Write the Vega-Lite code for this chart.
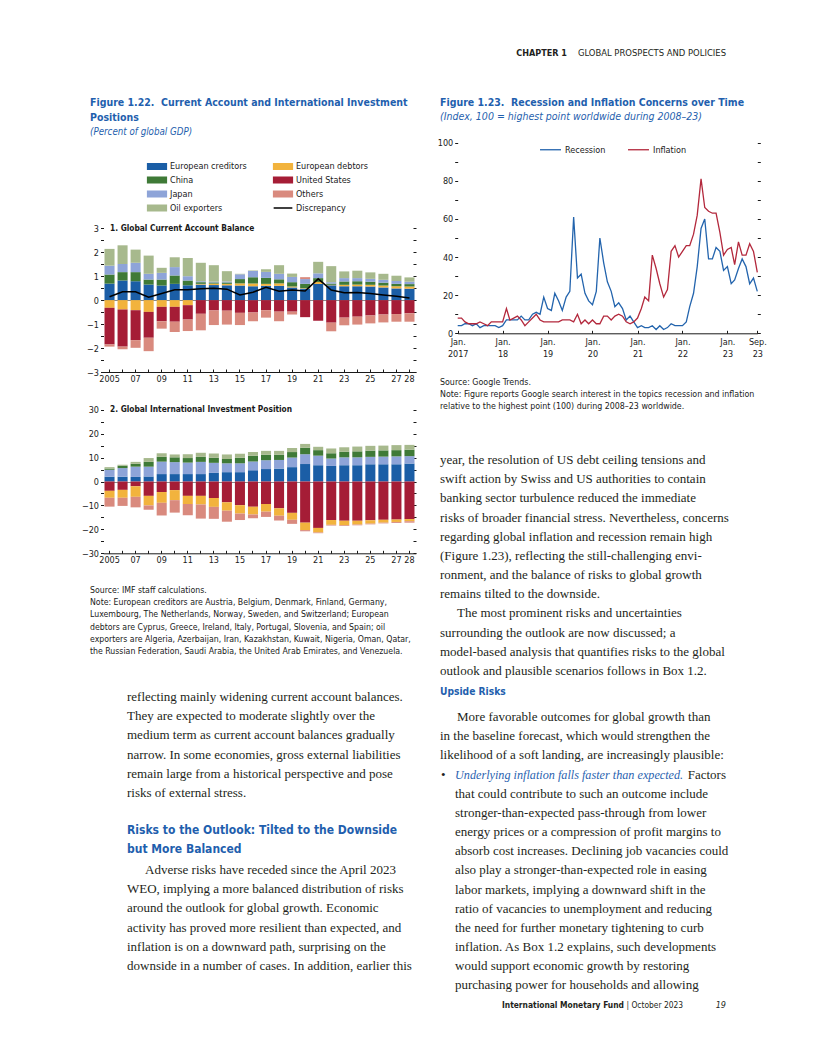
{
"$schema": "https://vega.github.io/schema/vega-lite/v6.json",
"width": 816, "height": 1056,
"autosize": {"type": "fit", "contains": "padding"},
"padding": 0,
"background": "white",
"config": {
  "view": {"stroke": null},
  "axis": {"labelFont": "Liberation Sans Narrow, Arial Narrow, DejaVu Sans Condensed, sans-serif", "labelFontSize": 9, "labelColor": "#1a1a1a", "tickColor": "#1a1a1a", "domainColor": "#1a1a1a", "grid": false, "labelPadding": 2, "tickSize": 3},
  "legend": {"labelFont": "Liberation Sans Narrow, Arial Narrow, DejaVu Sans Condensed, sans-serif", "labelFontSize": 9, "labelColor": "#1a1a1a"}
},
"datasets": {
"ca": [
{"year":2005,"series":"European creditors","rank":1,"value":0.69},{"year":2005,"series":"European debtors","rank":2,"value":-0.32},{"year":2005,"series":"China","rank":3,"value":0.38},{"year":2005,"series":"Japan","rank":4,"value":0.37},{"year":2005,"series":"Oil exporters","rank":5,"value":0.70},{"year":2005,"series":"United States","rank":6,"value":-1.53},{"year":2005,"series":"Others","rank":7,"value":-0.09},
{"year":2006,"series":"European creditors","rank":1,"value":0.82},{"year":2006,"series":"European debtors","rank":2,"value":-0.39},{"year":2006,"series":"China","rank":3,"value":0.35},{"year":2006,"series":"Japan","rank":4,"value":0.34},{"year":2006,"series":"Oil exporters","rank":5,"value":0.78},{"year":2006,"series":"United States","rank":6,"value":-1.55},{"year":2006,"series":"Others","rank":7,"value":-0.11},
{"year":2007,"series":"European creditors","rank":1,"value":0.79},{"year":2007,"series":"European debtors","rank":2,"value":-0.42},{"year":2007,"series":"China","rank":3,"value":0.38},{"year":2007,"series":"Japan","rank":4,"value":0.39},{"year":2007,"series":"Oil exporters","rank":5,"value":0.55},{"year":2007,"series":"United States","rank":6,"value":-1.25},{"year":2007,"series":"Others","rank":7,"value":-0.32},
{"year":2008,"series":"European creditors","rank":1,"value":0.65},{"year":2008,"series":"European debtors","rank":2,"value":-0.49},{"year":2008,"series":"China","rank":3,"value":0.21},{"year":2008,"series":"Japan","rank":4,"value":0.24},{"year":2008,"series":"Oil exporters","rank":5,"value":0.76},{"year":2008,"series":"United States","rank":6,"value":-1.08},{"year":2008,"series":"Others","rank":7,"value":-0.56},
{"year":2009,"series":"European creditors","rank":1,"value":0.61},{"year":2009,"series":"European debtors","rank":2,"value":-0.28},{"year":2009,"series":"China","rank":3,"value":0.25},{"year":2009,"series":"Japan","rank":4,"value":0.28},{"year":2009,"series":"Oil exporters","rank":5,"value":0.21},{"year":2009,"series":"United States","rank":6,"value":-0.60},{"year":2009,"series":"Others","rank":7,"value":-0.31},
{"year":2010,"series":"European creditors","rank":1,"value":0.68},{"year":2010,"series":"European debtors","rank":2,"value":-0.28},{"year":2010,"series":"China","rank":3,"value":0.35},{"year":2010,"series":"Japan","rank":4,"value":0.35},{"year":2010,"series":"Oil exporters","rank":5,"value":0.41},{"year":2010,"series":"United States","rank":6,"value":-0.62},{"year":2010,"series":"Others","rank":7,"value":-0.43},
{"year":2011,"series":"European creditors","rank":1,"value":0.62},{"year":2011,"series":"European debtors","rank":2,"value":-0.21},{"year":2011,"series":"China","rank":3,"value":0.20},{"year":2011,"series":"Japan","rank":4,"value":0.18},{"year":2011,"series":"Oil exporters","rank":5,"value":0.76},{"year":2011,"series":"United States","rank":6,"value":-0.60},{"year":2011,"series":"Others","rank":7,"value":-0.48},
{"year":2012,"series":"European creditors","rank":1,"value":0.65},{"year":2012,"series":"European debtors","rank":2,"value":0.03},{"year":2012,"series":"China","rank":3,"value":0.07},{"year":2012,"series":"Japan","rank":4,"value":0.04},{"year":2012,"series":"Oil exporters","rank":5,"value":0.77},{"year":2012,"series":"United States","rank":6,"value":-0.57},{"year":2012,"series":"Others","rank":7,"value":-0.69},
{"year":2013,"series":"European creditors","rank":1,"value":0.63},{"year":2013,"series":"European debtors","rank":2,"value":0.06},{"year":2013,"series":"China","rank":3,"value":0.05},{"year":2013,"series":"Japan","rank":4,"value":0.03},{"year":2013,"series":"Oil exporters","rank":5,"value":0.69},{"year":2013,"series":"United States","rank":6,"value":-0.43},{"year":2013,"series":"Others","rank":7,"value":-0.61},
{"year":2014,"series":"European creditors","rank":1,"value":0.62},{"year":2014,"series":"European debtors","rank":2,"value":0.06},{"year":2014,"series":"China","rank":3,"value":0.06},{"year":2014,"series":"Japan","rank":4,"value":0.04},{"year":2014,"series":"Oil exporters","rank":5,"value":0.43},{"year":2014,"series":"United States","rank":6,"value":-0.44},{"year":2014,"series":"Others","rank":7,"value":-0.58},
{"year":2015,"series":"European creditors","rank":1,"value":0.61},{"year":2015,"series":"European debtors","rank":2,"value":0.09},{"year":2015,"series":"China","rank":3,"value":0.18},{"year":2015,"series":"Japan","rank":4,"value":0.20},{"year":2015,"series":"Oil exporters","rank":5,"value":0.02},{"year":2015,"series":"United States","rank":6,"value":-0.53},{"year":2015,"series":"Others","rank":7,"value":-0.51},
{"year":2016,"series":"European creditors","rank":1,"value":0.58},{"year":2016,"series":"European debtors","rank":2,"value":0.12},{"year":2016,"series":"China","rank":3,"value":0.26},{"year":2016,"series":"Japan","rank":4,"value":0.26},{"year":2016,"series":"Oil exporters","rank":5,"value":0.02},{"year":2016,"series":"United States","rank":6,"value":-0.52},{"year":2016,"series":"Others","rank":7,"value":-0.36},
{"year":2017,"series":"European creditors","rank":1,"value":0.60},{"year":2017,"series":"European debtors","rank":2,"value":0.08},{"year":2017,"series":"China","rank":3,"value":0.25},{"year":2017,"series":"Japan","rank":4,"value":0.25},{"year":2017,"series":"Oil exporters","rank":5,"value":0.11},{"year":2017,"series":"United States","rank":6,"value":-0.42},{"year":2017,"series":"Others","rank":7,"value":-0.31},
{"year":2018,"series":"European creditors","rank":1,"value":0.60},{"year":2018,"series":"European debtors","rank":2,"value":0.10},{"year":2018,"series":"China","rank":3,"value":0.17},{"year":2018,"series":"Japan","rank":4,"value":0.23},{"year":2018,"series":"Oil exporters","rank":5,"value":0.36},{"year":2018,"series":"United States","rank":6,"value":-0.48},{"year":2018,"series":"Others","rank":7,"value":-0.40},
{"year":2019,"series":"European creditors","rank":1,"value":0.53},{"year":2019,"series":"European debtors","rank":2,"value":0.04},{"year":2019,"series":"China","rank":3,"value":0.18},{"year":2019,"series":"Japan","rank":4,"value":0.22},{"year":2019,"series":"Oil exporters","rank":5,"value":0.14},{"year":2019,"series":"United States","rank":6,"value":-0.48},{"year":2019,"series":"Others","rank":7,"value":-0.12},
{"year":2020,"series":"European creditors","rank":1,"value":0.48},{"year":2020,"series":"European debtors","rank":2,"value":0.02},{"year":2020,"series":"China","rank":3,"value":0.18},{"year":2020,"series":"Japan","rank":4,"value":0.20},{"year":2020,"series":"Oil exporters","rank":5,"value":0.0},{"year":2020,"series":"United States","rank":6,"value":-0.71},{"year":2020,"series":"Others","rank":7,"value":0.08},
{"year":2021,"series":"European creditors","rank":1,"value":0.68},{"year":2021,"series":"European debtors","rank":2,"value":0.08},{"year":2021,"series":"China","rank":3,"value":0.16},{"year":2021,"series":"Japan","rank":4,"value":0.20},{"year":2021,"series":"Oil exporters","rank":5,"value":0.48},{"year":2021,"series":"United States","rank":6,"value":-0.86},{"year":2021,"series":"Others","rank":7,"value":0.0},
{"year":2022,"series":"European creditors","rank":1,"value":0.62},{"year":2022,"series":"European debtors","rank":2,"value":0.02},{"year":2022,"series":"China","rank":3,"value":0.05},{"year":2022,"series":"Japan","rank":4,"value":0.06},{"year":2022,"series":"Oil exporters","rank":5,"value":0.67},{"year":2022,"series":"United States","rank":6,"value":-0.94},{"year":2022,"series":"Others","rank":7,"value":-0.36},
{"year":2023,"series":"European creditors","rank":1,"value":0.58},{"year":2023,"series":"European debtors","rank":2,"value":0.06},{"year":2023,"series":"China","rank":3,"value":0.14},{"year":2023,"series":"Japan","rank":4,"value":0.14},{"year":2023,"series":"Oil exporters","rank":5,"value":0.28},{"year":2023,"series":"United States","rank":6,"value":-0.73},{"year":2023,"series":"Others","rank":7,"value":-0.32},
{"year":2024,"series":"European creditors","rank":1,"value":0.58},{"year":2024,"series":"European debtors","rank":2,"value":0.07},{"year":2024,"series":"China","rank":3,"value":0.14},{"year":2024,"series":"Japan","rank":4,"value":0.13},{"year":2024,"series":"Oil exporters","rank":5,"value":0.31},{"year":2024,"series":"United States","rank":6,"value":-0.69},{"year":2024,"series":"Others","rank":7,"value":-0.33},
{"year":2025,"series":"European creditors","rank":1,"value":0.57},{"year":2025,"series":"European debtors","rank":2,"value":0.07},{"year":2025,"series":"China","rank":3,"value":0.13},{"year":2025,"series":"Japan","rank":4,"value":0.12},{"year":2025,"series":"Oil exporters","rank":5,"value":0.27},{"year":2025,"series":"United States","rank":6,"value":-0.64},{"year":2025,"series":"Others","rank":7,"value":-0.33},
{"year":2026,"series":"European creditors","rank":1,"value":0.53},{"year":2026,"series":"European debtors","rank":2,"value":0.08},{"year":2026,"series":"China","rank":3,"value":0.12},{"year":2026,"series":"Japan","rank":4,"value":0.12},{"year":2026,"series":"Oil exporters","rank":5,"value":0.25},{"year":2026,"series":"United States","rank":6,"value":-0.60},{"year":2026,"series":"Others","rank":7,"value":-0.33},
{"year":2027,"series":"European creditors","rank":1,"value":0.49},{"year":2027,"series":"European debtors","rank":2,"value":0.09},{"year":2027,"series":"China","rank":3,"value":0.10},{"year":2027,"series":"Japan","rank":4,"value":0.12},{"year":2027,"series":"Oil exporters","rank":5,"value":0.22},{"year":2027,"series":"United States","rank":6,"value":-0.58},{"year":2027,"series":"Others","rank":7,"value":-0.32},
{"year":2028,"series":"European creditors","rank":1,"value":0.48},{"year":2028,"series":"European debtors","rank":2,"value":0.09},{"year":2028,"series":"China","rank":3,"value":0.10},{"year":2028,"series":"Japan","rank":4,"value":0.10},{"year":2028,"series":"Oil exporters","rank":5,"value":0.18},{"year":2028,"series":"United States","rank":6,"value":-0.55},{"year":2028,"series":"Others","rank":7,"value":-0.35}
],
"cadisc": [
{"year":2005,"value":0.14},{"year":2006,"value":0.35},{"year":2007,"value":0.35},{"year":2008,"value":0.12},{"year":2009,"value":0.28},{"year":2010,"value":0.43},{"year":2011,"value":0.43},{"year":2012,"value":0.48},{"year":2013,"value":0.50},{"year":2014,"value":0.46},{"year":2015,"value":0.22},{"year":2016,"value":0.33},{"year":2017,"value":0.54},{"year":2018,"value":0.37},{"year":2019,"value":0.42},{"year":2020,"value":0.38},{"year":2021,"value":0.89},{"year":2022,"value":0.42},{"year":2023,"value":0.31},{"year":2024,"value":0.32},{"year":2025,"value":0.28},{"year":2026,"value":0.22},{"year":2027,"value":0.16},{"year":2028,"value":0.09}
],
"iip": [
{"year":2005,"series":"European creditors","rank":1,"value":2.0},{"year":2005,"series":"Japan","rank":2,"value":2.9},{"year":2005,"series":"China","rank":3,"value":0.5},{"year":2005,"series":"Oil exporters","rank":4,"value":0.6},{"year":2005,"series":"United States","rank":5,"value":-3.9},{"year":2005,"series":"European debtors","rank":6,"value":-2.9},{"year":2005,"series":"Others","rank":7,"value":-3.7},
{"year":2006,"series":"European creditors","rank":1,"value":2.0},{"year":2006,"series":"Japan","rank":2,"value":3.6},{"year":2006,"series":"China","rank":3,"value":1.0},{"year":2006,"series":"Oil exporters","rank":4,"value":0.4},{"year":2006,"series":"United States","rank":5,"value":-3.5},{"year":2006,"series":"European debtors","rank":6,"value":-3.3},{"year":2006,"series":"Others","rank":7,"value":-3.4},
{"year":2007,"series":"European creditors","rank":1,"value":1.9},{"year":2007,"series":"Japan","rank":2,"value":4.3},{"year":2007,"series":"China","rank":3,"value":1.2},{"year":2007,"series":"Oil exporters","rank":4,"value":0.8},{"year":2007,"series":"United States","rank":5,"value":-2.0},{"year":2007,"series":"European debtors","rank":6,"value":-4.4},{"year":2007,"series":"Others","rank":7,"value":-4.4},
{"year":2008,"series":"European creditors","rank":1,"value":2.1},{"year":2008,"series":"Japan","rank":2,"value":4.1},{"year":2008,"series":"China","rank":3,"value":2.0},{"year":2008,"series":"Oil exporters","rank":4,"value":1.6},{"year":2008,"series":"United States","rank":5,"value":-6.0},{"year":2008,"series":"European debtors","rank":6,"value":-4.0},{"year":2008,"series":"Others","rank":7,"value":-1.8},
{"year":2009,"series":"European creditors","rank":1,"value":3.1},{"year":2009,"series":"Japan","rank":2,"value":5.2},{"year":2009,"series":"China","rank":3,"value":2.0},{"year":2009,"series":"Oil exporters","rank":4,"value":1.5},{"year":2009,"series":"United States","rank":5,"value":-4.4},{"year":2009,"series":"European debtors","rank":6,"value":-4.5},{"year":2009,"series":"Others","rank":7,"value":-5.3},
{"year":2010,"series":"European creditors","rank":1,"value":3.1},{"year":2010,"series":"Japan","rank":2,"value":5.0},{"year":2010,"series":"China","rank":3,"value":2.0},{"year":2010,"series":"Oil exporters","rank":4,"value":1.2},{"year":2010,"series":"United States","rank":5,"value":-3.6},{"year":2010,"series":"European debtors","rank":6,"value":-4.2},{"year":2010,"series":"Others","rank":7,"value":-5.2},
{"year":2011,"series":"European creditors","rank":1,"value":3.1},{"year":2011,"series":"Japan","rank":2,"value":4.8},{"year":2011,"series":"China","rank":3,"value":1.9},{"year":2011,"series":"Oil exporters","rank":4,"value":1.6},{"year":2011,"series":"United States","rank":5,"value":-6.0},{"year":2011,"series":"European debtors","rank":6,"value":-3.4},{"year":2011,"series":"Others","rank":7,"value":-4.7},
{"year":2012,"series":"European creditors","rank":1,"value":3.1},{"year":2012,"series":"Japan","rank":2,"value":5.1},{"year":2012,"series":"China","rank":3,"value":2.1},{"year":2012,"series":"Oil exporters","rank":4,"value":1.7},{"year":2012,"series":"United States","rank":5,"value":-6.0},{"year":2012,"series":"European debtors","rank":6,"value":-3.6},{"year":2012,"series":"Others","rank":7,"value":-5.9},
{"year":2013,"series":"European creditors","rank":1,"value":3.6},{"year":2013,"series":"Japan","rank":2,"value":4.2},{"year":2013,"series":"China","rank":3,"value":2.1},{"year":2013,"series":"Oil exporters","rank":4,"value":1.8},{"year":2013,"series":"United States","rank":5,"value":-6.9},{"year":2013,"series":"European debtors","rank":6,"value":-3.7},{"year":2013,"series":"Others","rank":7,"value":-5.0},
{"year":2014,"series":"European creditors","rank":1,"value":3.9},{"year":2014,"series":"Japan","rank":2,"value":3.7},{"year":2014,"series":"China","rank":3,"value":1.8},{"year":2014,"series":"Oil exporters","rank":4,"value":1.9},{"year":2014,"series":"United States","rank":5,"value":-8.7},{"year":2014,"series":"European debtors","rank":6,"value":-3.5},{"year":2014,"series":"Others","rank":7,"value":-4.6},
{"year":2015,"series":"European creditors","rank":1,"value":3.9},{"year":2015,"series":"Japan","rank":2,"value":3.7},{"year":2015,"series":"China","rank":3,"value":2.3},{"year":2015,"series":"Oil exporters","rank":4,"value":1.7},{"year":2015,"series":"United States","rank":5,"value":-9.9},{"year":2015,"series":"European debtors","rank":6,"value":-3.5},{"year":2015,"series":"Others","rank":7,"value":-2.7},
{"year":2016,"series":"European creditors","rank":1,"value":4.7},{"year":2016,"series":"Japan","rank":2,"value":3.7},{"year":2016,"series":"China","rank":3,"value":2.4},{"year":2016,"series":"Oil exporters","rank":4,"value":1.5},{"year":2016,"series":"United States","rank":5,"value":-10.5},{"year":2016,"series":"European debtors","rank":6,"value":-3.3},{"year":2016,"series":"Others","rank":7,"value":-1.6},
{"year":2017,"series":"European creditors","rank":1,"value":5.2},{"year":2017,"series":"Japan","rank":2,"value":3.7},{"year":2017,"series":"China","rank":3,"value":2.3},{"year":2017,"series":"Oil exporters","rank":4,"value":1.6},{"year":2017,"series":"United States","rank":5,"value":-9.4},{"year":2017,"series":"European debtors","rank":6,"value":-3.2},{"year":2017,"series":"Others","rank":7,"value":-2.2},
{"year":2018,"series":"European creditors","rank":1,"value":5.4},{"year":2018,"series":"Japan","rank":2,"value":3.6},{"year":2018,"series":"China","rank":3,"value":2.2},{"year":2018,"series":"Oil exporters","rank":4,"value":1.6},{"year":2018,"series":"United States","rank":5,"value":-11.2},{"year":2018,"series":"European debtors","rank":6,"value":-3.1},{"year":2018,"series":"Others","rank":7,"value":-2.0},
{"year":2019,"series":"European creditors","rank":1,"value":6.0},{"year":2019,"series":"Japan","rank":2,"value":4.0},{"year":2019,"series":"China","rank":3,"value":2.3},{"year":2019,"series":"Oil exporters","rank":4,"value":1.7},{"year":2019,"series":"United States","rank":5,"value":-13.1},{"year":2019,"series":"European debtors","rank":6,"value":-2.9},{"year":2019,"series":"Others","rank":7,"value":-1.7},
{"year":2020,"series":"European creditors","rank":1,"value":7.3},{"year":2020,"series":"Japan","rank":2,"value":4.1},{"year":2020,"series":"China","rank":3,"value":2.7},{"year":2020,"series":"Oil exporters","rank":4,"value":1.6},{"year":2020,"series":"United States","rank":5,"value":-17.2},{"year":2020,"series":"European debtors","rank":6,"value":-3.1},{"year":2020,"series":"Others","rank":7,"value":-0.5},
{"year":2021,"series":"European creditors","rank":1,"value":6.8},{"year":2021,"series":"Japan","rank":2,"value":4.0},{"year":2021,"series":"China","rank":3,"value":2.3},{"year":2021,"series":"Oil exporters","rank":4,"value":1.4},{"year":2021,"series":"United States","rank":5,"value":-19.4},{"year":2021,"series":"European debtors","rank":6,"value":-1.9},{"year":2021,"series":"Others","rank":7,"value":-0.3},
{"year":2022,"series":"European creditors","rank":1,"value":6.5},{"year":2022,"series":"Japan","rank":2,"value":3.1},{"year":2022,"series":"China","rank":3,"value":2.2},{"year":2022,"series":"Oil exporters","rank":4,"value":2.0},{"year":2022,"series":"United States","rank":5,"value":-16.1},{"year":2022,"series":"European debtors","rank":6,"value":-2.0},{"year":2022,"series":"Others","rank":7,"value":-0.3},
{"year":2023,"series":"European creditors","rank":1,"value":6.8},{"year":2023,"series":"Japan","rank":2,"value":3.3},{"year":2023,"series":"China","rank":3,"value":2.3},{"year":2023,"series":"Oil exporters","rank":4,"value":1.9},{"year":2023,"series":"United States","rank":5,"value":-16.4},{"year":2023,"series":"European debtors","rank":6,"value":-1.9},{"year":2023,"series":"Others","rank":7,"value":-0.3},
{"year":2024,"series":"European creditors","rank":1,"value":6.8},{"year":2024,"series":"Japan","rank":2,"value":3.3},{"year":2024,"series":"China","rank":3,"value":2.5},{"year":2024,"series":"Oil exporters","rank":4,"value":2.0},{"year":2024,"series":"United States","rank":5,"value":-16.4},{"year":2024,"series":"European debtors","rank":6,"value":-1.6},{"year":2024,"series":"Others","rank":7,"value":-0.3},
{"year":2025,"series":"European creditors","rank":1,"value":7.2},{"year":2025,"series":"Japan","rank":2,"value":3.1},{"year":2025,"series":"China","rank":3,"value":2.6},{"year":2025,"series":"Oil exporters","rank":4,"value":2.0},{"year":2025,"series":"United States","rank":5,"value":-16.2},{"year":2025,"series":"European debtors","rank":6,"value":-1.4},{"year":2025,"series":"Others","rank":7,"value":-0.3},
{"year":2026,"series":"European creditors","rank":1,"value":7.2},{"year":2026,"series":"Japan","rank":2,"value":3.2},{"year":2026,"series":"China","rank":3,"value":2.6},{"year":2026,"series":"Oil exporters","rank":4,"value":2.0},{"year":2026,"series":"United States","rank":5,"value":-16.0},{"year":2026,"series":"European debtors","rank":6,"value":-1.2},{"year":2026,"series":"Others","rank":7,"value":-0.3},
{"year":2027,"series":"European creditors","rank":1,"value":7.2},{"year":2027,"series":"Japan","rank":2,"value":3.3},{"year":2027,"series":"China","rank":3,"value":2.6},{"year":2027,"series":"Oil exporters","rank":4,"value":2.1},{"year":2027,"series":"United States","rank":5,"value":-15.9},{"year":2027,"series":"European debtors","rank":6,"value":-1.0},{"year":2027,"series":"Others","rank":7,"value":-0.4},
{"year":2028,"series":"European creditors","rank":1,"value":7.5},{"year":2028,"series":"Japan","rank":2,"value":3.1},{"year":2028,"series":"China","rank":3,"value":2.7},{"year":2028,"series":"Oil exporters","rank":4,"value":2.0},{"year":2028,"series":"United States","rank":5,"value":-15.7},{"year":2028,"series":"European debtors","rank":6,"value":-0.9},{"year":2028,"series":"Others","rank":7,"value":-0.6}
],
"gt": [
{"date":"2017-01-01","recession":4,"inflation":8},{"date":"2017-02-01","recession":4,"inflation":8},{"date":"2017-03-01","recession":5,"inflation":6},{"date":"2017-04-01","recession":5,"inflation":5},{"date":"2017-05-01","recession":4,"inflation":5},{"date":"2017-06-01","recession":5,"inflation":5},{"date":"2017-07-01","recession":3,"inflation":6},{"date":"2017-08-01","recession":4,"inflation":5},{"date":"2017-09-01","recession":4,"inflation":4},{"date":"2017-10-01","recession":4,"inflation":6},{"date":"2017-11-01","recession":4,"inflation":6},{"date":"2017-12-01","recession":3,"inflation":6},
{"date":"2018-01-01","recession":4,"inflation":6},{"date":"2018-02-01","recession":7,"inflation":13},{"date":"2018-03-01","recession":7,"inflation":7},{"date":"2018-04-01","recession":7,"inflation":8},{"date":"2018-05-01","recession":7,"inflation":9},{"date":"2018-06-01","recession":9,"inflation":7},{"date":"2018-07-01","recession":7,"inflation":4},{"date":"2018-08-01","recession":7,"inflation":6},{"date":"2018-09-01","recession":10,"inflation":8},{"date":"2018-10-01","recession":11,"inflation":10},{"date":"2018-11-01","recession":10,"inflation":7},{"date":"2018-12-01","recession":19,"inflation":6},
{"date":"2019-01-01","recession":13,"inflation":6},{"date":"2019-02-01","recession":12,"inflation":6},{"date":"2019-03-01","recession":21,"inflation":6},{"date":"2019-04-01","recession":17,"inflation":6},{"date":"2019-05-01","recession":12,"inflation":7},{"date":"2019-06-01","recession":19,"inflation":7},{"date":"2019-07-01","recession":22,"inflation":7},{"date":"2019-08-01","recession":61,"inflation":6},{"date":"2019-09-01","recession":29,"inflation":10},{"date":"2019-10-01","recession":31,"inflation":5},{"date":"2019-11-01","recession":21,"inflation":7},{"date":"2019-12-01","recession":17,"inflation":5},
{"date":"2020-01-01","recession":15,"inflation":7},{"date":"2020-02-01","recession":22,"inflation":5},{"date":"2020-03-01","recession":50,"inflation":5},{"date":"2020-04-01","recession":37,"inflation":9},{"date":"2020-05-01","recession":27,"inflation":9},{"date":"2020-06-01","recession":22,"inflation":7},{"date":"2020-07-01","recession":14,"inflation":9},{"date":"2020-08-01","recession":16,"inflation":10},{"date":"2020-09-01","recession":13,"inflation":9},{"date":"2020-10-01","recession":7,"inflation":6},{"date":"2020-11-01","recession":9,"inflation":5},{"date":"2020-12-01","recession":6,"inflation":6},
{"date":"2021-01-01","recession":3,"inflation":8},{"date":"2021-02-01","recession":4,"inflation":13},{"date":"2021-03-01","recession":3,"inflation":19},{"date":"2021-04-01","recession":3,"inflation":17},{"date":"2021-05-01","recession":4,"inflation":41},{"date":"2021-06-01","recession":2,"inflation":34},{"date":"2021-07-01","recession":4,"inflation":26},{"date":"2021-08-01","recession":2,"inflation":19},{"date":"2021-09-01","recession":3,"inflation":23},{"date":"2021-10-01","recession":5,"inflation":43},{"date":"2021-11-01","recession":4,"inflation":46},{"date":"2021-12-01","recession":4,"inflation":40},
{"date":"2022-01-01","recession":4,"inflation":43},{"date":"2022-02-01","recession":6,"inflation":46},{"date":"2022-03-01","recession":14,"inflation":46},{"date":"2022-04-01","recession":21,"inflation":52},{"date":"2022-05-01","recession":35,"inflation":62},{"date":"2022-06-01","recession":55,"inflation":81},{"date":"2022-07-01","recession":60,"inflation":66},{"date":"2022-08-01","recession":39,"inflation":64},{"date":"2022-09-01","recession":39,"inflation":63},{"date":"2022-10-01","recession":45,"inflation":63},{"date":"2022-11-01","recession":43,"inflation":53},{"date":"2022-12-01","recession":33,"inflation":41},
{"date":"2023-01-01","recession":35,"inflation":44},{"date":"2023-02-01","recession":26,"inflation":45},{"date":"2023-03-01","recession":28,"inflation":36},{"date":"2023-04-01","recession":34,"inflation":48},{"date":"2023-05-01","recession":39,"inflation":41},{"date":"2023-06-01","recession":35,"inflation":41},{"date":"2023-07-01","recession":26,"inflation":47},{"date":"2023-08-01","recession":29,"inflation":43},{"date":"2023-09-01","recession":22,"inflation":32}
]
},
"layer": [
{
 "layer": [
  {
   "data": {"name": "ca"},
   "mark": {"type": "bar"},
   "encoding": {
    "x": {"field": "year", "type": "ordinal", "scale": {"range": [103.2, 415.8], "paddingInner": 0.23, "paddingOuter": 0.1},
          "axis": {"orient": "bottom", "offset": -684, "title": null, "labelAngle": 0, "labelOverlap": false, "tickSize": -3, "labelPadding": 5, "labelExpr": "(datum.value % 2 == 1 || datum.value == 2028) ? (datum.value == 2005 ? '2005' : slice(toString(datum.value), 2)) : ''"}},
    "y": {"field": "value", "type": "quantitative", "stack": "zero", "scale": {"domain": [-3, 3], "range": [372, 228.3], "nice": false, "zero": false},
          "axis": {"orient": "left", "offset": -103.5, "title": null, "domain": false, "values": [-3,-2.5,-2,-1.5,-1,-0.5,0,0.5,1,1.5,2,2.5,3], "labelExpr": "datum.value % 1 === 0 ? format(datum.value, 'd') : ''", "grid": true, "gridColor": {"condition": {"test": "datum.value === 0", "value": "#8a8a8a"}, "value": "transparent"}, "gridWidth": 1}},
    "color": {"field": "series", "type": "nominal",
      "scale": {"domain": ["European creditors","China","Japan","Oil exporters","European debtors","United States","Others","Discrepancy"], "range": ["#1b5ea6","#3f7a37","#8ea4d8","#a7b98d","#f2b33d","#a51d36","#d98a7e","#000000"]},
      "legend": {"orient": "none", "legendX": 150.5, "legendY": 159.5, "columns": 2, "title": null, "symbolType": "M-1.7,-0.5H1.7V0.5H-1.7Z", "symbolSize": 121, "labelOffset": 6.5, "rowPadding": 1, "columnPadding": 23, "symbolStrokeWidth": 0,
        "encode": {"symbols": {"update": {"shape": {"signal": "datum.label === 'Discrepancy' ? 'M-1.7,0H1.7' : 'M-1.7,-0.5H1.7V0.5H-1.7Z'"}, "stroke": {"signal": "datum.label === 'Discrepancy' ? '#000000' : 'transparent'"}, "strokeWidth": {"value": 1.5}}}}}},
    "order": {"field": "rank", "type": "quantitative", "sort": "ascending"}
   }
  },
  {
   "data": {"name": "cadisc"},
   "mark": {"type": "line", "strokeWidth": 1.5},
   "encoding": {
    "x": {"field": "year", "type": "ordinal"},
    "y": {"field": "value", "type": "quantitative", "axis": {"orient": "right", "offset": -403, "title": null, "labels": false, "domain": false, "values": [-3,-2.5,-2,-1.5,-1,-0.5,0,0.5,1,1.5,2,2.5,3]}},
    "color": {"datum": "Discrepancy"}
   }
  }
 ],
 "resolve": {"axis": {"y": "independent"}}
},
{
 "layer": [
  {
   "data": {"name": "iip"},
   "mark": {"type": "bar"},
   "encoding": {
    "x": {"field": "year", "type": "ordinal", "scale": {"range": [103.2, 415.8], "paddingInner": 0.23, "paddingOuter": 0.1},
          "axis": {"orient": "bottom", "offset": -502.7, "title": null, "labelAngle": 0, "labelOverlap": false, "tickSize": -3, "labelPadding": 5, "labelExpr": "(datum.value % 2 == 1 || datum.value == 2028) ? (datum.value == 2005 ? '2005' : slice(toString(datum.value), 2)) : ''"}},
    "y": {"field": "value", "type": "quantitative", "stack": "zero", "scale": {"domain": [-30, 30], "range": [553.3, 409.7], "nice": false, "zero": false},
          "axis": {"orient": "left", "offset": -103.5, "title": null, "domain": false, "values": [-30,-25,-20,-15,-10,-5,0,5,10,15,20,25,30], "labelExpr": "datum.value % 10 === 0 ? format(datum.value, 'd') : ''", "grid": true, "gridColor": {"condition": {"test": "datum.value === 0", "value": "#8a8a8a"}, "value": "transparent"}, "gridWidth": 1}},
    "color": {"field": "series", "type": "nominal",
      "scale": {"domain": ["European creditors","China","Japan","Oil exporters","European debtors","United States","Others"], "range": ["#1b5ea6","#3f7a37","#8ea4d8","#a7b98d","#f2b33d","#a51d36","#d98a7e"]},
      "legend": null},
    "order": {"field": "rank", "type": "quantitative", "sort": "ascending"}
   }
  },
  {
   "mark": {"type": "rule", "opacity": 0},
   "encoding": {
    "y": {"datum": 0, "type": "quantitative", "axis": {"orient": "right", "offset": -403, "title": null, "labels": false, "domain": false, "values": [-30,-25,-20,-15,-10,-5,0,5,10,15,20,25,30]}}
   }
  }
 ],
 "resolve": {"axis": {"y": "independent"}}
},
{
 "data": {"name": "gt"},
 "layer": [
  {
   "mark": {"type": "line", "strokeWidth": 1.3},
   "encoding": {
    "x": {"field": "date", "type": "temporal",
          "scale": {"type": "utc", "domain": [{"year": 2017, "month": 1, "date": 1, "utc": true}, {"year": 2023, "month": 9, "date": 1, "utc": true}], "range": [457.7, 757.3]},
          "axis": {"orient": "bottom", "offset": -722.7, "title": null, "labelAngle": 0, "labelOverlap": false, "labelFlush": false, "tickSize": -3, "labelPadding": 7, "labelLineHeight": 12,
                   "values": [{"year": 2017, "month": 1, "date": 1, "utc": true}, {"year": 2018, "month": 1, "date": 1, "utc": true}, {"year": 2019, "month": 1, "date": 1, "utc": true}, {"year": 2020, "month": 1, "date": 1, "utc": true}, {"year": 2021, "month": 1, "date": 1, "utc": true}, {"year": 2022, "month": 1, "date": 1, "utc": true}, {"year": 2023, "month": 1, "date": 1, "utc": true}, {"year": 2023, "month": 9, "date": 1, "utc": true}],
                   "labelExpr": "[utcFormat(datum.value, '%b') + '.', utcFormat(datum.value, '%Y') === '2017' ? '2017' : utcFormat(datum.value, '%y')]"}},
    "y": {"field": "recession", "type": "quantitative", "scale": {"domain": [0, 100], "range": [333.3, 142.7], "nice": false},
          "axis": {"orient": "left", "offset": -457.7, "title": null, "domain": false, "values": [0,10,20,30,40,50,60,70,80,90,100], "labelExpr": "datum.value % 20 === 0 ? format(datum.value, 'd') : ''"}},
    "color": {"datum": "Recession", "type": "nominal", "scale": {"domain": ["Recession", "Inflation"], "range": ["#2364ad", "#b3283c"]},
      "legend": {"orient": "none", "legendX": 539, "legendY": 138, "direction": "horizontal", "title": null, "symbolType": "stroke", "symbolSize": 440, "symbolStrokeWidth": 1.3, "labelOffset": 3, "columnPadding": 19}}
   }
  },
  {
   "mark": {"type": "line", "strokeWidth": 1.3},
   "encoding": {
    "x": {"field": "date", "type": "temporal"},
    "y": {"field": "inflation", "type": "quantitative", "axis": {"orient": "right", "offset": -58.7, "title": null, "labels": false, "domain": false, "values": [0,10,20,30,40,50,60,70,80,90,100]}},
    "color": {"datum": "Inflation", "type": "nominal"}
   }
  }
 ],
 "resolve": {"axis": {"y": "independent"}}
},
{
 "data": {"values": [{"t": "CHAPTER 1"}]},
 "mark": {"type": "text", "align": "right", "baseline": "middle", "font": "Liberation Sans Narrow, Arial Narrow, DejaVu Sans Condensed, sans-serif", "fontSize": 9, "fontWeight": "bold", "color": "#231f20"},
 "encoding": {"x": {"datum": 0, "type": "quantitative", "scale": {"domain": [0, 1], "range": [567, 568]}, "axis": null}, "y": {"field": "t", "type": "ordinal", "sort": null, "scale": {"range": [53, 53], "padding": 0}, "axis": null}, "text": {"field": "t"}}
},
{
 "data": {"values": [{"t": "GLOBAL PROSPECTS AND POLICIES"}]},
 "mark": {"type": "text", "align": "right", "baseline": "middle", "font": "Liberation Sans Narrow, Arial Narrow, DejaVu Sans Condensed, sans-serif", "fontSize": 9.4, "color": "#231f20"},
 "encoding": {"x": {"datum": 0, "type": "quantitative", "scale": {"domain": [0, 1], "range": [726, 727]}, "axis": null}, "y": {"field": "t", "type": "ordinal", "sort": null, "scale": {"range": [53, 53], "padding": 0}, "axis": null}, "text": {"field": "t"}}
},
{
 "data": {"values": [{"t": "Figure 1.22.\u00a0 Current Account and International Investment"}, {"t": "Positions"}]},
 "mark": {"type": "text", "align": "left", "baseline": "middle", "font": "Liberation Sans Narrow, Arial Narrow, DejaVu Sans Condensed, sans-serif", "fontSize": 10.5, "fontWeight": "bold", "color": "#1f5fae"},
 "encoding": {"x": {"datum": 0, "type": "quantitative", "scale": {"domain": [0, 1], "range": [90, 91]}, "axis": null}, "y": {"field": "t", "type": "ordinal", "sort": null, "scale": {"range": [103, 118], "padding": 0}, "axis": null}, "text": {"field": "t"}}
},
{
 "data": {"values": [{"t": "(Percent of global GDP)"}]},
 "mark": {"type": "text", "align": "left", "baseline": "middle", "font": "Liberation Sans Narrow, Arial Narrow, DejaVu Sans Condensed, sans-serif", "fontSize": 9.7, "fontStyle": "italic", "color": "#1f5fae"},
 "encoding": {"x": {"datum": 0, "type": "quantitative", "scale": {"domain": [0, 1], "range": [90, 91]}, "axis": null}, "y": {"field": "t", "type": "ordinal", "sort": null, "scale": {"range": [132, 132], "padding": 0}, "axis": null}, "text": {"field": "t"}}
},
{
 "data": {"values": [{"t": "1. Global Current Account Balance"}]},
 "mark": {"type": "text", "align": "left", "baseline": "middle", "font": "Liberation Sans Narrow, Arial Narrow, DejaVu Sans Condensed, sans-serif", "fontSize": 8.3, "fontWeight": "bold", "color": "#1a1a1a"},
 "encoding": {"x": {"datum": 0, "type": "quantitative", "scale": {"domain": [0, 1], "range": [110, 111]}, "axis": null}, "y": {"field": "t", "type": "ordinal", "sort": null, "scale": {"range": [229, 229], "padding": 0}, "axis": null}, "text": {"field": "t"}}
},
{
 "data": {"values": [{"t": "2. Global International Investment Position"}]},
 "mark": {"type": "text", "align": "left", "baseline": "middle", "font": "Liberation Sans Narrow, Arial Narrow, DejaVu Sans Condensed, sans-serif", "fontSize": 8.3, "fontWeight": "bold", "color": "#1a1a1a"},
 "encoding": {"x": {"datum": 0, "type": "quantitative", "scale": {"domain": [0, 1], "range": [110, 111]}, "axis": null}, "y": {"field": "t", "type": "ordinal", "sort": null, "scale": {"range": [410, 410], "padding": 0}, "axis": null}, "text": {"field": "t"}}
},
{
 "data": {"values": [{"t": "Source: IMF staff calculations."}, {"t": "Note: European creditors are Austria, Belgium, Denmark, Finland, Germany,"}, {"t": "Luxembourg, The Netherlands, Norway, Sweden, and Switzerland; European"}, {"t": "debtors are Cyprus, Greece, Ireland, Italy, Portugal, Slovenia, and Spain; oil"}, {"t": "exporters are Algeria, Azerbaijan, Iran, Kazakhstan, Kuwait, Nigeria, Oman, Qatar,"}, {"t": "the Russian Federation, Saudi Arabia, the United Arab Emirates, and Venezuela."}]},
 "mark": {"type": "text", "align": "left", "baseline": "middle", "font": "Liberation Sans Narrow, Arial Narrow, DejaVu Sans Condensed, sans-serif", "fontSize": 8.7, "color": "#1a1a1a"},
 "encoding": {"x": {"datum": 0, "type": "quantitative", "scale": {"domain": [0, 1], "range": [90, 91]}, "axis": null}, "y": {"field": "t", "type": "ordinal", "sort": null, "scale": {"range": [590, 651], "padding": 0}, "axis": null}, "text": {"field": "t"}}
},
{
 "data": {"values": [{"t": "reflecting mainly widening current account balances."}, {"t": "They are expected to moderate slightly over the"}, {"t": "medium term as current account balances gradually"}, {"t": "narrow. In some economies, gross external liabilities"}, {"t": "remain large from a historical perspective and pose"}, {"t": "risks of external stress."}]},
 "mark": {"type": "text", "align": "left", "baseline": "middle", "font": "Liberation Serif, Times New Roman, serif", "fontSize": 13, "color": "#231f20"},
 "encoding": {"x": {"datum": 0, "type": "quantitative", "scale": {"domain": [0, 1], "range": [127, 128]}, "axis": null}, "y": {"field": "t", "type": "ordinal", "sort": null, "scale": {"range": [697, 793], "padding": 0}, "axis": null}, "text": {"field": "t"}}
},
{
 "data": {"values": [{"t": "Risks to the Outlook: Tilted to the Downside"}, {"t": "but More Balanced"}]},
 "mark": {"type": "text", "align": "left", "baseline": "middle", "font": "Liberation Sans Narrow, Arial Narrow, DejaVu Sans Condensed, sans-serif", "fontSize": 12, "fontWeight": "bold", "color": "#1f5fae"},
 "encoding": {"x": {"datum": 0, "type": "quantitative", "scale": {"domain": [0, 1], "range": [127, 128]}, "axis": null}, "y": {"field": "t", "type": "ordinal", "sort": null, "scale": {"range": [830, 849], "padding": 0}, "axis": null}, "text": {"field": "t"}}
},
{
 "data": {"values": [{"t": "Adverse risks have receded since the April 2023"}]},
 "mark": {"type": "text", "align": "left", "baseline": "middle", "font": "Liberation Serif, Times New Roman, serif", "fontSize": 13, "color": "#231f20"},
 "encoding": {"x": {"datum": 0, "type": "quantitative", "scale": {"domain": [0, 1], "range": [145, 146]}, "axis": null}, "y": {"field": "t", "type": "ordinal", "sort": null, "scale": {"range": [870, 870], "padding": 0}, "axis": null}, "text": {"field": "t"}}
},
{
 "data": {"values": [{"t": "WEO, implying a more balanced distribution of risks"}, {"t": "around the outlook for global growth. Economic"}, {"t": "activity has proved more resilient than expected, and"}, {"t": "inflation is on a downward path, surprising on the"}, {"t": "downside in a number of cases. In addition, earlier this"}]},
 "mark": {"type": "text", "align": "left", "baseline": "middle", "font": "Liberation Serif, Times New Roman, serif", "fontSize": 13, "color": "#231f20"},
 "encoding": {"x": {"datum": 0, "type": "quantitative", "scale": {"domain": [0, 1], "range": [127, 128]}, "axis": null}, "y": {"field": "t", "type": "ordinal", "sort": null, "scale": {"range": [889.2, 966], "padding": 0}, "axis": null}, "text": {"field": "t"}}
},
{
 "data": {"values": [{"t": "Figure 1.23.\u00a0 Recession and Inflation Concerns over Time"}]},
 "mark": {"type": "text", "align": "left", "baseline": "middle", "font": "Liberation Sans Narrow, Arial Narrow, DejaVu Sans Condensed, sans-serif", "fontSize": 10.5, "fontWeight": "bold", "color": "#1f5fae"},
 "encoding": {"x": {"datum": 0, "type": "quantitative", "scale": {"domain": [0, 1], "range": [440, 441]}, "axis": null}, "y": {"field": "t", "type": "ordinal", "sort": null, "scale": {"range": [103, 103], "padding": 0}, "axis": null}, "text": {"field": "t"}}
},
{
 "data": {"values": [{"t": "(Index, 100 = highest point worldwide during 2008–23)"}]},
 "mark": {"type": "text", "align": "left", "baseline": "middle", "font": "Liberation Sans Narrow, Arial Narrow, DejaVu Sans Condensed, sans-serif", "fontSize": 10.5, "fontStyle": "italic", "color": "#1f5fae"},
 "encoding": {"x": {"datum": 0, "type": "quantitative", "scale": {"domain": [0, 1], "range": [440, 441]}, "axis": null}, "y": {"field": "t", "type": "ordinal", "sort": null, "scale": {"range": [117, 117], "padding": 0}, "axis": null}, "text": {"field": "t"}}
},
{
 "data": {"values": [{"t": "Source: Google Trends."}, {"t": "Note: Figure reports Google search interest in the topics recession and inflation"}, {"t": "relative to the highest point (100) during 2008–23 worldwide."}]},
 "mark": {"type": "text", "align": "left", "baseline": "middle", "font": "Liberation Sans Narrow, Arial Narrow, DejaVu Sans Condensed, sans-serif", "fontSize": 8.8, "color": "#1a1a1a"},
 "encoding": {"x": {"datum": 0, "type": "quantitative", "scale": {"domain": [0, 1], "range": [440, 441]}, "axis": null}, "y": {"field": "t", "type": "ordinal", "sort": null, "scale": {"range": [382, 406], "padding": 0}, "axis": null}, "text": {"field": "t"}}
},
{
 "data": {"values": [{"t": "year, the resolution of US debt ceiling tensions and"}, {"t": "swift action by Swiss and US authorities to contain"}, {"t": "banking sector turbulence reduced the immediate"}, {"t": "risks of broader financial stress. Nevertheless, concerns"}, {"t": "regarding global inflation and recession remain high"}, {"t": "(Figure 1.23), reflecting the still-challenging envi-"}, {"t": "ronment, and the balance of risks to global growth"}, {"t": "remains tilted to the downside."}]},
 "mark": {"type": "text", "align": "left", "baseline": "middle", "font": "Liberation Serif, Times New Roman, serif", "fontSize": 13, "color": "#231f20"},
 "encoding": {"x": {"datum": 0, "type": "quantitative", "scale": {"domain": [0, 1], "range": [440, 441]}, "axis": null}, "y": {"field": "t", "type": "ordinal", "sort": null, "scale": {"range": [460, 594.3], "padding": 0}, "axis": null}, "text": {"field": "t"}}
},
{
 "data": {"values": [{"t": "The most prominent risks and uncertainties"}]},
 "mark": {"type": "text", "align": "left", "baseline": "middle", "font": "Liberation Serif, Times New Roman, serif", "fontSize": 13, "color": "#231f20"},
 "encoding": {"x": {"datum": 0, "type": "quantitative", "scale": {"domain": [0, 1], "range": [457, 458]}, "axis": null}, "y": {"field": "t", "type": "ordinal", "sort": null, "scale": {"range": [613.4, 613.4], "padding": 0}, "axis": null}, "text": {"field": "t"}}
},
{
 "data": {"values": [{"t": "surrounding the outlook are now discussed; a"}, {"t": "model-based analysis that quantifies risks to the global"}, {"t": "outlook and plausible scenarios follows in Box 1.2."}]},
 "mark": {"type": "text", "align": "left", "baseline": "middle", "font": "Liberation Serif, Times New Roman, serif", "fontSize": 13, "color": "#231f20"},
 "encoding": {"x": {"datum": 0, "type": "quantitative", "scale": {"domain": [0, 1], "range": [440, 441]}, "axis": null}, "y": {"field": "t", "type": "ordinal", "sort": null, "scale": {"range": [632.6, 671], "padding": 0}, "axis": null}, "text": {"field": "t"}}
},
{
 "data": {"values": [{"t": "Upside Risks"}]},
 "mark": {"type": "text", "align": "left", "baseline": "middle", "font": "Liberation Sans Narrow, Arial Narrow, DejaVu Sans Condensed, sans-serif", "fontSize": 10.2, "fontWeight": "bold", "color": "#1f5fae"},
 "encoding": {"x": {"datum": 0, "type": "quantitative", "scale": {"domain": [0, 1], "range": [440, 441]}, "axis": null}, "y": {"field": "t", "type": "ordinal", "sort": null, "scale": {"range": [692, 692], "padding": 0}, "axis": null}, "text": {"field": "t"}}
},
{
 "data": {"values": [{"t": "More favorable outcomes for global growth than"}]},
 "mark": {"type": "text", "align": "left", "baseline": "middle", "font": "Liberation Serif, Times New Roman, serif", "fontSize": 13, "color": "#231f20"},
 "encoding": {"x": {"datum": 0, "type": "quantitative", "scale": {"domain": [0, 1], "range": [457, 458]}, "axis": null}, "y": {"field": "t", "type": "ordinal", "sort": null, "scale": {"range": [717, 717], "padding": 0}, "axis": null}, "text": {"field": "t"}}
},
{
 "data": {"values": [{"t": "in the baseline forecast, which would strengthen the"}, {"t": "likelihood of a soft landing, are increasingly plausible:"}]},
 "mark": {"type": "text", "align": "left", "baseline": "middle", "font": "Liberation Serif, Times New Roman, serif", "fontSize": 13, "color": "#231f20"},
 "encoding": {"x": {"datum": 0, "type": "quantitative", "scale": {"domain": [0, 1], "range": [440, 441]}, "axis": null}, "y": {"field": "t", "type": "ordinal", "sort": null, "scale": {"range": [736.2, 755.4], "padding": 0}, "axis": null}, "text": {"field": "t"}}
},
{
 "data": {"values": [{"t": "•"}]},
 "mark": {"type": "text", "align": "left", "baseline": "middle", "font": "Liberation Serif, Times New Roman, serif", "fontSize": 13, "color": "#231f20"},
 "encoding": {"x": {"datum": 0, "type": "quantitative", "scale": {"domain": [0, 1], "range": [441, 442]}, "axis": null}, "y": {"field": "t", "type": "ordinal", "sort": null, "scale": {"range": [774.5, 774.5], "padding": 0}, "axis": null}, "text": {"field": "t"}}
},
{
 "data": {"values": [{"t": "Underlying inflation falls faster than expected."}]},
 "mark": {"type": "text", "align": "left", "baseline": "middle", "font": "Liberation Serif, Times New Roman, serif", "fontSize": 12.2, "fontStyle": "italic", "color": "#2a63b0"},
 "encoding": {"x": {"datum": 0, "type": "quantitative", "scale": {"domain": [0, 1], "range": [455, 456]}, "axis": null}, "y": {"field": "t", "type": "ordinal", "sort": null, "scale": {"range": [774.5, 774.5], "padding": 0}, "axis": null}, "text": {"field": "t"}}
},
{
 "data": {"values": [{"t": "Factors"}]},
 "mark": {"type": "text", "align": "right", "baseline": "middle", "font": "Liberation Serif, Times New Roman, serif", "fontSize": 13, "color": "#231f20"},
 "encoding": {"x": {"datum": 0, "type": "quantitative", "scale": {"domain": [0, 1], "range": [726, 727]}, "axis": null}, "y": {"field": "t", "type": "ordinal", "sort": null, "scale": {"range": [774.5, 774.5], "padding": 0}, "axis": null}, "text": {"field": "t"}}
},
{
 "data": {"values": [{"t": "that could contribute to such an outcome include"}, {"t": "stronger-than-expected pass-through from lower"}, {"t": "energy prices or a compression of profit margins to"}, {"t": "absorb cost increases. Declining job vacancies could"}, {"t": "also play a stronger-than-expected role in easing"}, {"t": "labor markets, implying a downward shift in the"}, {"t": "ratio of vacancies to unemployment and reducing"}, {"t": "the need for further monetary tightening to curb"}, {"t": "inflation. As Box 1.2 explains, such developments"}, {"t": "would support economic growth by restoring"}, {"t": "purchasing power for households and allowing"}]},
 "mark": {"type": "text", "align": "left", "baseline": "middle", "font": "Liberation Serif, Times New Roman, serif", "fontSize": 13, "color": "#231f20"},
 "encoding": {"x": {"datum": 0, "type": "quantitative", "scale": {"domain": [0, 1], "range": [455, 456]}, "axis": null}, "y": {"field": "t", "type": "ordinal", "sort": null, "scale": {"range": [793.7, 985.4], "padding": 0}, "axis": null}, "text": {"field": "t"}}
},
{
 "data": {"values": [{"t": "International Monetary Fund"}]},
 "mark": {"type": "text", "align": "right", "baseline": "middle", "font": "Liberation Sans Narrow, Arial Narrow, DejaVu Sans Condensed, sans-serif", "fontSize": 8.4, "fontWeight": "bold", "color": "#231f20"},
 "encoding": {"x": {"datum": 0, "type": "quantitative", "scale": {"domain": [0, 1], "range": [624, 625]}, "axis": null}, "y": {"field": "t", "type": "ordinal", "sort": null, "scale": {"range": [1005, 1005], "padding": 0}, "axis": null}, "text": {"field": "t"}}
},
{
 "data": {"values": [{"t": "| October 2023"}]},
 "mark": {"type": "text", "align": "left", "baseline": "middle", "font": "Liberation Sans Narrow, Arial Narrow, DejaVu Sans Condensed, sans-serif", "fontSize": 8.4, "color": "#231f20"},
 "encoding": {"x": {"datum": 0, "type": "quantitative", "scale": {"domain": [0, 1], "range": [626.5, 627.5]}, "axis": null}, "y": {"field": "t", "type": "ordinal", "sort": null, "scale": {"range": [1005, 1005], "padding": 0}, "axis": null}, "text": {"field": "t"}}
},
{
 "data": {"values": [{"t": "19"}]},
 "mark": {"type": "text", "align": "right", "baseline": "middle", "font": "Liberation Sans Narrow, Arial Narrow, DejaVu Sans Condensed, sans-serif", "fontSize": 9, "fontStyle": "italic", "color": "#231f20"},
 "encoding": {"x": {"datum": 0, "type": "quantitative", "scale": {"domain": [0, 1], "range": [726, 727]}, "axis": null}, "y": {"field": "t", "type": "ordinal", "sort": null, "scale": {"range": [1005, 1005], "padding": 0}, "axis": null}, "text": {"field": "t"}}
}
],
"resolve": {"scale": {"x": "independent", "y": "independent", "color": "independent"}, "axis": {"x": "independent", "y": "independent"}, "legend": {"color": "independent"}}
}
